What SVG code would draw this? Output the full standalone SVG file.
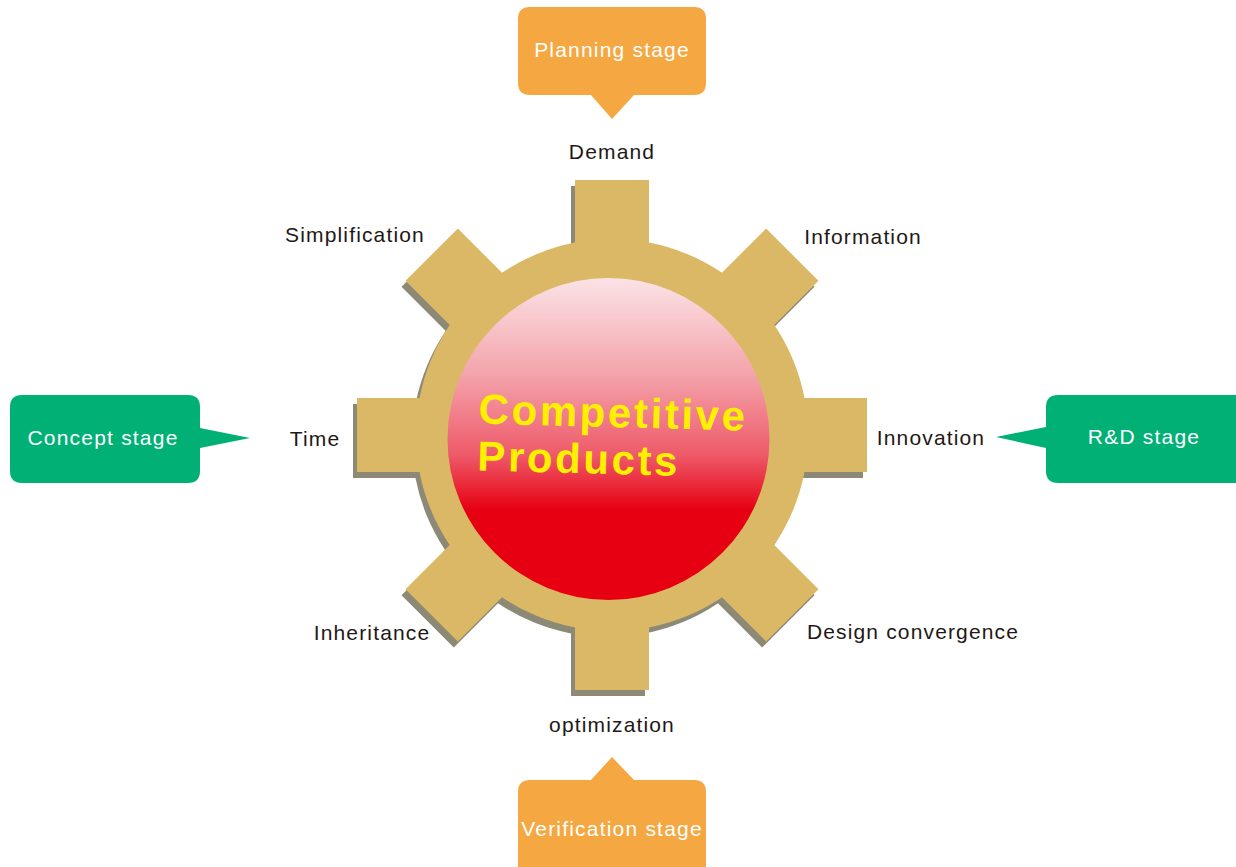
<svg xmlns="http://www.w3.org/2000/svg" xmlns:xlink="http://www.w3.org/1999/xlink" width="1236" height="867" viewBox="0 0 1236 867">
  <style>
    .lbl { font-family: "Liberation Sans", Arial, sans-serif; font-size: 21px; fill: #231815; letter-spacing: 1.15px; text-anchor: middle; }
    .cap { font-family: "Liberation Sans", Arial, sans-serif; font-size: 21px; fill: #ffffff; letter-spacing: 1.2px; text-anchor: middle; }
    .orange { fill: #f5a742; }
    .green { fill: #00b075; }
    .title { font-family: "Liberation Sans", Arial, sans-serif; font-size: 42px; font-weight: bold; fill: #fff000; letter-spacing: 2.6px; }
  </style>
  <defs>
    <g id="gearShape">
      <circle cx="0" cy="0" r="196"/>
      <rect x="-37" y="-255" width="74" height="130"/>
      <rect x="-37" y="-255" width="74" height="130" transform="rotate(45)"/>
      <rect x="-37" y="-255" width="74" height="130" transform="rotate(90)"/>
      <rect x="-37" y="-255" width="74" height="130" transform="rotate(135)"/>
      <rect x="-37" y="-255" width="74" height="130" transform="rotate(180)"/>
      <rect x="-37" y="-255" width="74" height="130" transform="rotate(225)"/>
      <rect x="-37" y="-255" width="74" height="130" transform="rotate(270)"/>
      <rect x="-37" y="-255" width="74" height="130" transform="rotate(315)"/>
    </g>
    <linearGradient id="redGrad" x1="0" y1="0" x2="0" y2="1">
      <stop offset="0" stop-color="#fbe3e6"/>
      <stop offset="0.3" stop-color="#f4a3ab"/>
      <stop offset="0.55" stop-color="#ee5a69"/>
      <stop offset="0.72" stop-color="#e60012"/>
      <stop offset="1" stop-color="#e60012"/>
    </linearGradient>
  </defs>

  <g id="gear">
    <use xlink:href="#gearShape" href="#gearShape" transform="translate(608,441)" fill="#8c8a76"/>
    <use xlink:href="#gearShape" href="#gearShape" transform="translate(612,435)" fill="#dbb866"/>
  </g>

  <g id="core">
    <circle cx="608.5" cy="439" r="161" fill="url(#redGrad)"/>
    <g transform="rotate(1.5 610 435)">
      <text class="title" x="478" y="427">Competitive</text>
      <text class="title" x="478" y="474">Products</text>
    </g>
  </g>

  <g id="connectors"></g>

  <g id="planning">
    <path class="orange" d="M530,7 H694 Q706,7 706,19 V83 Q706,95 694,95 H634 L612,119 L591,95 H530 Q518,95 518,83 V19 Q518,7 530,7 Z"/>
    <text class="cap" x="612" y="57">Planning stage</text>
  </g>

  <g id="verification">
    <path class="orange" d="M530,780 H591 L612,757 L634,780 H694 Q706,780 706,792 V867 H518 V792 Q518,780 530,780 Z"/>
    <text class="cap" x="612" y="836">Verification stage</text>
  </g>

  <g id="concept">
    <path class="green" d="M22,395 H188 Q200,395 200,407 V428 L250,438 L200,448 V471 Q200,483 188,483 H22 Q10,483 10,471 V407 Q10,395 22,395 Z"/>
    <text class="cap" x="103" y="445">Concept stage</text>
  </g>

  <g id="rnd">
    <path class="green" d="M1058,395 H1236 V483 H1058 Q1046,483 1046,471 V448 L996,437 L1046,427 V407 Q1046,395 1058,395 Z"/>
    <text class="cap" x="1144" y="444">R&amp;D stage</text>
  </g>

  <g id="label-demand"><text class="lbl" x="612" y="159">Demand</text></g>
  <g id="label-simplification"><text class="lbl" x="355" y="242">Simplification</text></g>
  <g id="label-information"><text class="lbl" x="863" y="244">Information</text></g>
  <g id="label-time"><text class="lbl" x="315" y="446">Time</text></g>
  <g id="label-innovation"><text class="lbl" x="931" y="445">Innovation</text></g>
  <g id="label-inheritance"><text class="lbl" x="372" y="640">Inheritance</text></g>
  <g id="label-design"><text class="lbl" x="913" y="639">Design convergence</text></g>
  <g id="label-optimization"><text class="lbl" x="612" y="732">optimization</text></g>
</svg>
